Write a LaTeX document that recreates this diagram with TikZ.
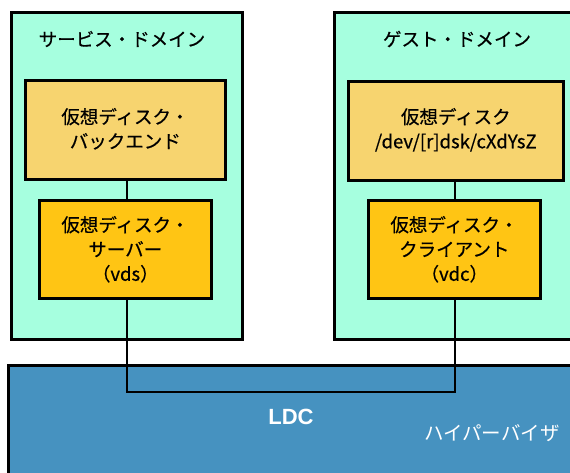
\documentclass[tikz,border=0pt]{standalone}
\usepackage{fontspec}
\setmainfont{Noto Sans CJK JP}[FakeBold=0.5]
\newfontfamily\plainjp{Noto Sans CJK JP}
\newfontfamily\ldcfont{Liberation Sans}
\definecolor{mint}{HTML}{A6FFDF}
\definecolor{backc}{HTML}{F7D46F}
\definecolor{servc}{HTML}{FFC514}
\definecolor{hypc}{HTML}{4692C0}
\begin{document}
\begin{tikzpicture}[x=1pt,y=-1pt,
  box/.style={draw=black,line width=2.6pt,anchor=north west,inner sep=0pt},
  lbl/.style={font=\fontsize{18.5}{24.5}\selectfont,align=center,text=black},
  conn/.style={draw=black,line width=2.6pt}]
\useasboundingbox (0,0) rectangle (570,473);
% hypervisor
\node[box,fill=hypc,minimum width=620pt,minimum height=150pt] (hyp) at (7,364) {};
% domains
\node[box,fill=mint,minimum width=231pt,minimum height=327pt] (sdom) at (10,11) {};
\node[box,fill=mint,minimum width=280pt,minimum height=327pt] (gdom) at (333,11) {};
% inner boxes
\node[box,fill=backc,minimum width=200pt,minimum height=99pt] (sback) at (24,79) {};
\node[box,fill=servc,minimum width=172pt,minimum height=98pt] (serv) at (38,199) {};
\node[box,fill=backc,minimum width=215pt,minimum height=99pt] (gback) at (347,80) {};
\node[box,fill=servc,minimum width=172pt,minimum height=98pt] (cli) at (367,199) {};
% texts
\node[lbl] (sdomt) at (122,39) {サービス・ドメイン};
\node[lbl] (gdomt) at (457,39) {ゲスト・ドメイン};
\node[lbl] at ([yshift=1pt]sback.center) {仮想ディスク・\\バックエンド};
\node[lbl] at (serv.center) {仮想ディスク・\\サーバー\\（vds）};
\node[lbl] at ([yshift=1pt]gback.center) {仮想ディスク\\/dev/[r]dsk/cXdYsZ};
\node[lbl] at (cli.center) {仮想ディスク・\\クライアント\\（vdc）};
\node[font=\ldcfont\bfseries\fontsize{22}{24}\selectfont,text=white] (ldc) at (291,417) {LDC};
\node[font=\plainjp\fontsize{19.5}{22}\selectfont,text=white] (hypt) at (492,433) {ハイパーバイザ};
% connectors
\coordinate (c1) at (127,392);
\coordinate (c2) at (455,392);
\draw[conn] (sback.south -| 127,0) -- (serv.north -| 127,0);
\draw[conn] (gback.south -| 455,0) -- (cli.north -| 455,0);
\draw[conn] (serv.south -| c1) -- (c1) -- (c2) -- (cli.south -| c2);
\end{tikzpicture}
\end{document}
